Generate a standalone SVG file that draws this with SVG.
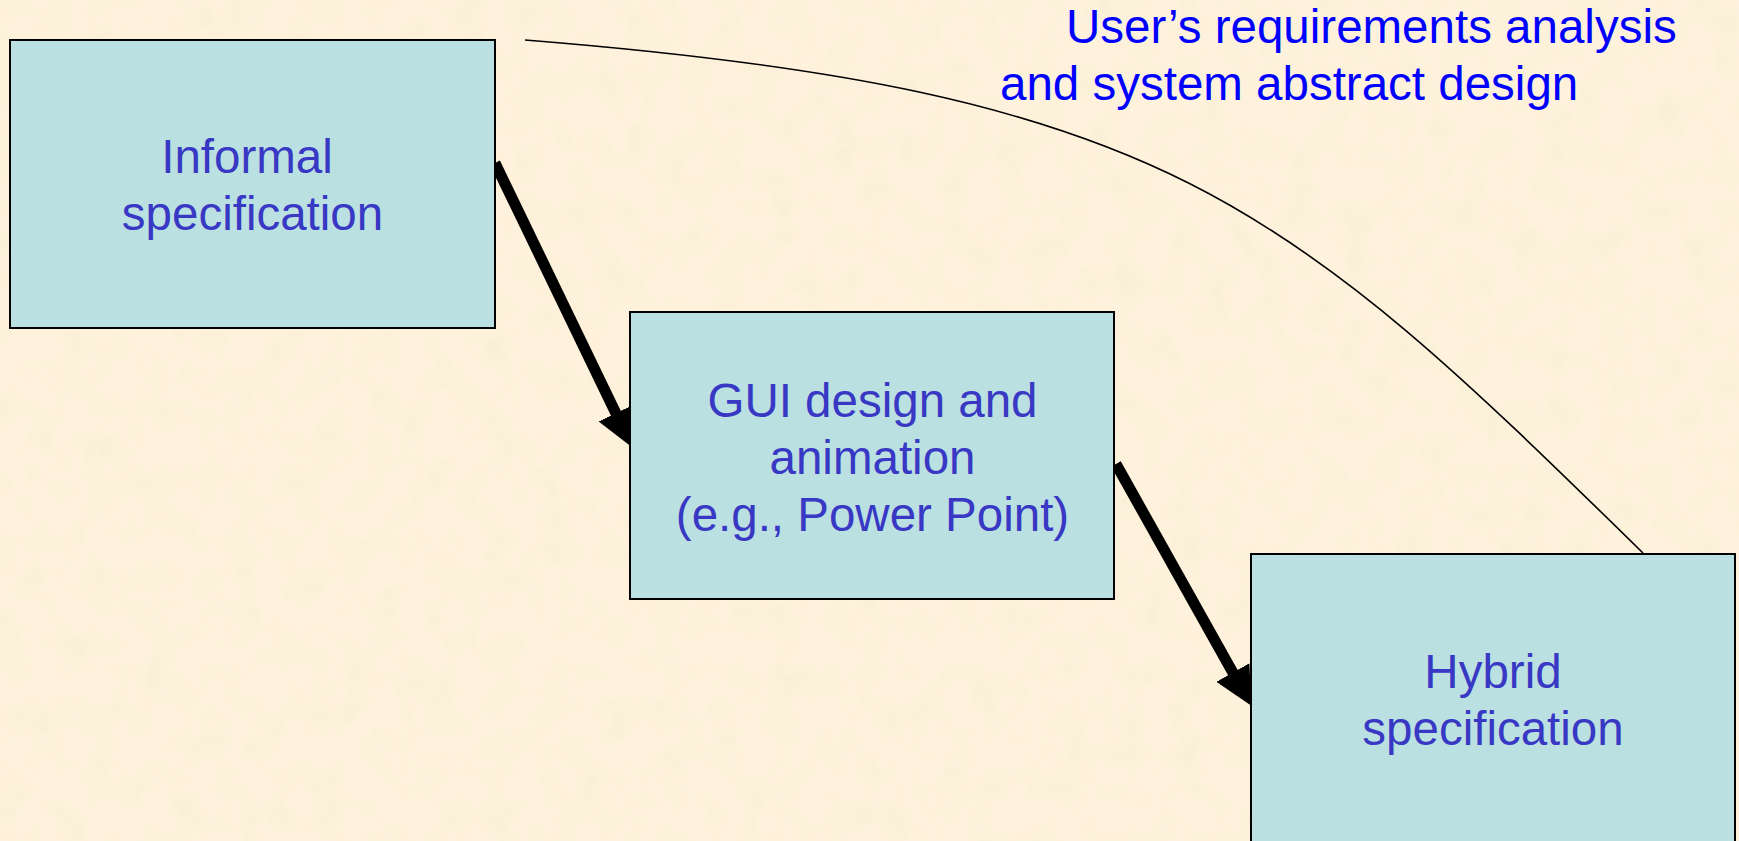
<svg xmlns="http://www.w3.org/2000/svg" width="1739" height="841" viewBox="0 0 1739 841">
  <defs>
    <!-- mottled parchment texture for the page -->
    <filter id="parchment" x="0" y="0" width="100%" height="100%" filterUnits="userSpaceOnUse">
      <feTurbulence type="fractalNoise" baseFrequency="0.035 0.03" numOctaves="3" seed="7" result="noise"/>
      <feColorMatrix in="noise" type="matrix"
        values="0 0 0 0 0.90
                0 0 0 0 0.83
                0 0 0 0 0.62
                1.1 0 0 0 -0.50" result="spots"/>
      <feComposite in="spots" in2="SourceGraphic" operator="over"/>
    </filter>
    <marker id="head" viewBox="0 -19 38 38" refX="1" refY="0"
            markerWidth="38" markerHeight="38" markerUnits="userSpaceOnUse" orient="auto">
      <path d="M0,-19 L38,0 L0,19 Z" fill="#000"/>
    </marker>
    <style>
      .box { fill: #bae0e2; stroke: #000; stroke-width: 2; }
      .node-text { font-family: "Liberation Sans", Arial, sans-serif; font-size: 47.5px; fill: #3838c4; text-anchor: middle; }
      .label { font-family: "Liberation Sans", Arial, sans-serif; font-size: 47.5px; fill: #0000ff; }
      .flow { fill: none; stroke: #000; stroke-width: 11; stroke-linecap: butt; marker-end: url(#head); }
      .link { fill: none; stroke: #000; stroke-width: 1.6; }
    </style>
  </defs>

  <!-- page background -->
  <rect x="0" y="0" width="1739" height="841" fill="#fef2dc" filter="url(#parchment)"/>

  <!-- connectors (below the boxes so the arrow tips tuck under the borders) -->
  <g id="connectors">
    <path class="link" d="M525,40 C1165,91 1283,200 1643,553"/>
    <line class="flow" x1="495" y1="163" x2="616.3" y2="414.1"/>
    <line class="flow" x1="1116" y1="464" x2="1233.3" y2="673.4"/>
  </g>

  <g id="informal-spec">
    <rect class="box" x="10" y="40" width="485" height="288"/>
    <text class="node-text" x="247" y="173">Informal</text>
    <text class="node-text" x="252.5" y="230">specification</text>
  </g>

  <g id="gui-design">
    <rect class="box" x="630" y="312" width="484" height="287"/>
    <text class="node-text" x="872.5" y="417">GUI design and</text>
    <text class="node-text" x="872.5" y="474">animation</text>
    <text class="node-text" x="872.5" y="531">(e.g., Power Point)</text>
  </g>

  <g id="hybrid-spec">
    <rect class="box" x="1251" y="554" width="484" height="292"/>
    <text class="node-text" x="1493" y="688">Hybrid</text>
    <text class="node-text" x="1493" y="745">specification</text>
  </g>

  <g id="phase-label">
    <text class="label" x="1066" y="43">User’s requirements analysis</text>
    <text class="label" x="1000" y="100">and system abstract design</text>
  </g>
</svg>
